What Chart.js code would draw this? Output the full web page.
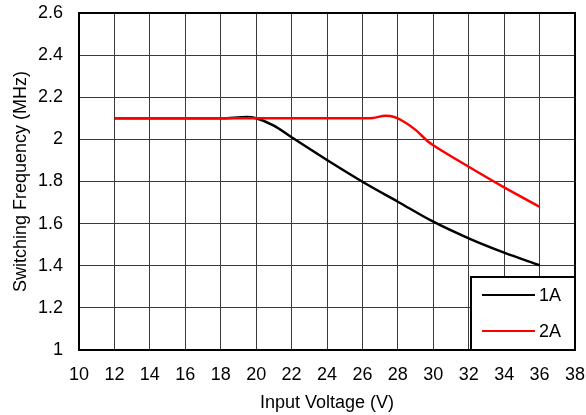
<!DOCTYPE html>
<html><head><meta charset="utf-8">
<script src="https://cdn.jsdelivr.net/npm/chart.js@4"></script>
<style>html,body{margin:0;padding:0;background:#fff}#wrap{width:586px;height:415px}</style>
</head><body><div id="wrap"><canvas id="c" width="586" height="415"></canvas></div>
<script>
const xTicks = [10,12,14,16,18,20,22,24,26,28,30,32,34,36,38];
const yTicks = [1,1.2,1.4,1.6,1.8,2,2.2,2.4,2.6];
const v1A = [12,14,16,18,19.5,20,21,22,24,26,28,30,32,34,36];
const f1A = [2.1,2.1,2.1,2.1,2.106,2.1,2.065,2.01,1.902,1.799,1.704,1.609,1.53,1.462,1.402];
const v2A = [12,14,16,18,20,22,24,26,26.6,27.3,27.8,28.3,29,29.7,30,32,34,36];
const f2A = [2.1,2.1,2.1,2.1,2.1,2.1,2.1,2.1,2.102,2.112,2.106,2.086,2.045,1.99,1.972,1.87,1.772,1.68];
const seriesNames = ['1A','2A'];
const seriesColors = ['#000000','#ff0000'];

const pts = (xs, ys) => xs.map((x,i)=>({x, y: ys[i]}));
const FONT = 'Liberation Sans, Arial, sans-serif';

const frameLegend = {
  id:'frameLegend',
  afterDraw(chart){
    const {ctx, chartArea:a} = chart;
    ctx.save();
    ctx.strokeStyle='#000'; ctx.lineWidth=2;
    ctx.strokeRect(a.left, a.top, a.right-a.left, a.bottom-a.top);
    const lx = 471, ly = 277, lw = a.right - lx, lh = a.bottom - ly;
    ctx.fillStyle='#fff';
    ctx.fillRect(lx, ly, lw, lh);
    ctx.strokeRect(lx, ly, lw, lh);
    ctx.font = '18px ' + FONT;
    ctx.textBaseline='middle';
    const rows = [295, 331];
    chart.data.datasets.forEach((ds,i)=>{
      ctx.strokeStyle = ds.borderColor; ctx.lineWidth = 2;
      ctx.beginPath(); ctx.moveTo(482, rows[i]); ctx.lineTo(535, rows[i]); ctx.stroke();
      ctx.fillStyle='#000';
      ctx.fillText(ds.label, 539, rows[i]+1);
    });
    ctx.restore();
  }
};

new Chart(document.getElementById('c'), {
  type:'line',
  data:{datasets:[
    {label:seriesNames[0], data:pts(v1A,f1A), borderColor:seriesColors[0], borderWidth:2.5, pointRadius:0, cubicInterpolationMode:'monotone', fill:false, order:2},
    {label:seriesNames[1], data:pts(v2A,f2A), borderColor:seriesColors[1], borderWidth:2.5, pointRadius:0, cubicInterpolationMode:'monotone', fill:false, order:1}
  ]},
  options:{
    responsive:false, animation:false,
    layout:{padding:{top:13,right:11,left:0,bottom:0}},
    plugins:{legend:{display:false}, tooltip:{enabled:false}},
    scales:{
      x:{type:'linear', min:10, max:38,
        afterBuildTicks: s => { s.ticks = xTicks.map(v=>({value:v})); },
        afterFit: s => { s.height = 65; s.paddingLeft = 0; s.paddingRight = 0; },
        grid:{color:'#3a3a3a', lineWidth:1, drawTicks:false},
        border:{display:false},
        ticks:{color:'#000', font:{family:FONT, size:18}, padding:14, maxRotation:0},
        title:{display:true, text:'Input Voltage (V)', color:'#000', font:{family:FONT, size:18}, padding:{top:0, bottom:1}}
      },
      y:{type:'linear', min:1, max:2.6,
        afterBuildTicks: s => { s.ticks = yTicks.map(v=>({value:v})); },
        afterFit: s => { s.width = 79; s.paddingTop = 0; s.paddingBottom = 0; },
        grid:{color:'#3a3a3a', lineWidth:1, drawTicks:false},
        border:{display:false},
        ticks:{color:'#000', font:{family:FONT, size:18}, padding:16, callback:v=>String(Math.round(v*10)/10)},
        title:{display:true, text:'Switching Frequency (MHz)', color:'#000', font:{family:FONT, size:18}, padding:{top:10, bottom:0}}
      }
    }
  },
  plugins:[frameLegend]
});
</script></body></html>
